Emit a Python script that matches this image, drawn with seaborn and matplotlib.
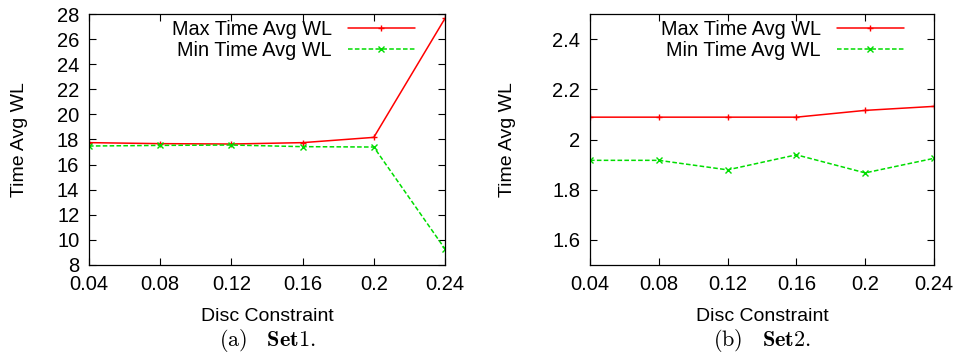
import matplotlib
matplotlib.use("Agg")
import matplotlib.pyplot as plt
import pandas as pd
import seaborn as sns

disc = [0.04, 0.08, 0.12, 0.16, 0.20, 0.24]
xtick_labels = ["0.04", "0.08", "0.12", "0.16", "0.2", "0.24"]

set1_max = [17.75, 17.67, 17.64, 17.75, 18.17, 27.65]
set1_min = [17.48, 17.53, 17.56, 17.43, 17.40, 9.28]
set2_max = [2.089, 2.089, 2.089, 2.089, 2.116, 2.132]
set2_min = [1.917, 1.917, 1.879, 1.939, 1.867, 1.925]

series_names = ["Max Time Avg WL", "Min Time Avg WL"]

sns.set_style("ticks")
plt.rcParams["font.family"] = ["Liberation Sans", "DejaVu Sans"]
plt.rcParams["mathtext.fontset"] = "cm"
plt.rcParams["text.color"] = "black"
plt.rcParams["xtick.color"] = "black"
plt.rcParams["ytick.color"] = "black"
plt.rcParams["axes.labelcolor"] = "black"
plt.rcParams["axes.edgecolor"] = "black"


def make_frame(mx, mn):
    return pd.DataFrame({
        "disc": disc * 2,
        "value": mx + mn,
        "series": [series_names[0]] * len(disc) + [series_names[1]] * len(disc),
    })


fig = plt.figure(figsize=(9.61, 3.56), dpi=100)
ax1 = fig.add_axes([89 / 961, 1 - 265 / 356, 356 / 961, 251 / 356])
ax2 = fig.add_axes([590 / 961, 1 - 265 / 356, 344 / 961, 251 / 356])

panels = [
    (ax1, make_frame(set1_max, set1_min), (8, 28), list(range(8, 29, 2)), None,
     20 / 961, 1 - 24 / 356, "(a)", "Set1"),
    (ax2, make_frame(set2_max, set2_min), (1.5, 2.5), [1.6, 1.8, 2.0, 2.2, 2.4],
     ["1.6", "1.8", "2", "2.2", "2.4"], 508 / 961, 1 - 24 / 344, "(b)", "Set2"),
]

for ax, df, ylim, yticks, ylabels, ylab_x, leg_x, tag, name in panels:
    sns.lineplot(
        data=df, x="disc", y="value", hue="series", style="series",
        palette=["#ff0000", "#00dd00"],
        dashes=[(None, None), (3, 1.5)],
        markers=["+", "x"], markersize=5, markeredgewidth=1.0,
        linewidth=1.1, ax=ax,
    )
    for ln in ax.lines:
        ln.set_markeredgecolor(ln.get_color())
    ax.set_xlim(0.04, 0.24)
    ax.set_ylim(*ylim)
    ax.set_xticks(disc)
    ax.set_xticklabels(xtick_labels)
    ax.set_yticks(yticks)
    if ylabels is not None:
        ax.set_yticklabels(ylabels)
    ax.tick_params(direction="in", top=True, right=True, length=5, width=0.8,
                   labelsize=14.5, pad=7)
    for s in ax.spines.values():
        s.set_linewidth(0.9)
        s.set_visible(True)
    ax.set_xlabel("Disc Constraint", fontsize=14, labelpad=10)
    ax.set_ylabel("")
    fig.text(ylab_x, 1 - 140 / 356, "Time Avg WL", rotation=90, fontsize=14,
             ha="center", va="center")
    leg = ax.legend(loc="upper right", bbox_to_anchor=(leg_x, 1.0),
                    frameon=False, markerfirst=False,
                    fontsize=14.3, handlelength=3.4, borderaxespad=0.0,
                    borderpad=0.3, labelspacing=0.1, handletextpad=0.8)
    for h in leg.get_lines():
        h.set_markeredgecolor(h.get_color())
    box = ax.get_position()
    fig.text((box.x0 + box.x1) / 2, 1 - 340 / 356,
             r"$\mathrm{" + tag + r"}\ \ \ \mathbf{" + name + r"}.$",
             fontsize=16, ha="center", va="center")

fig.savefig("out.png", dpi=100)
